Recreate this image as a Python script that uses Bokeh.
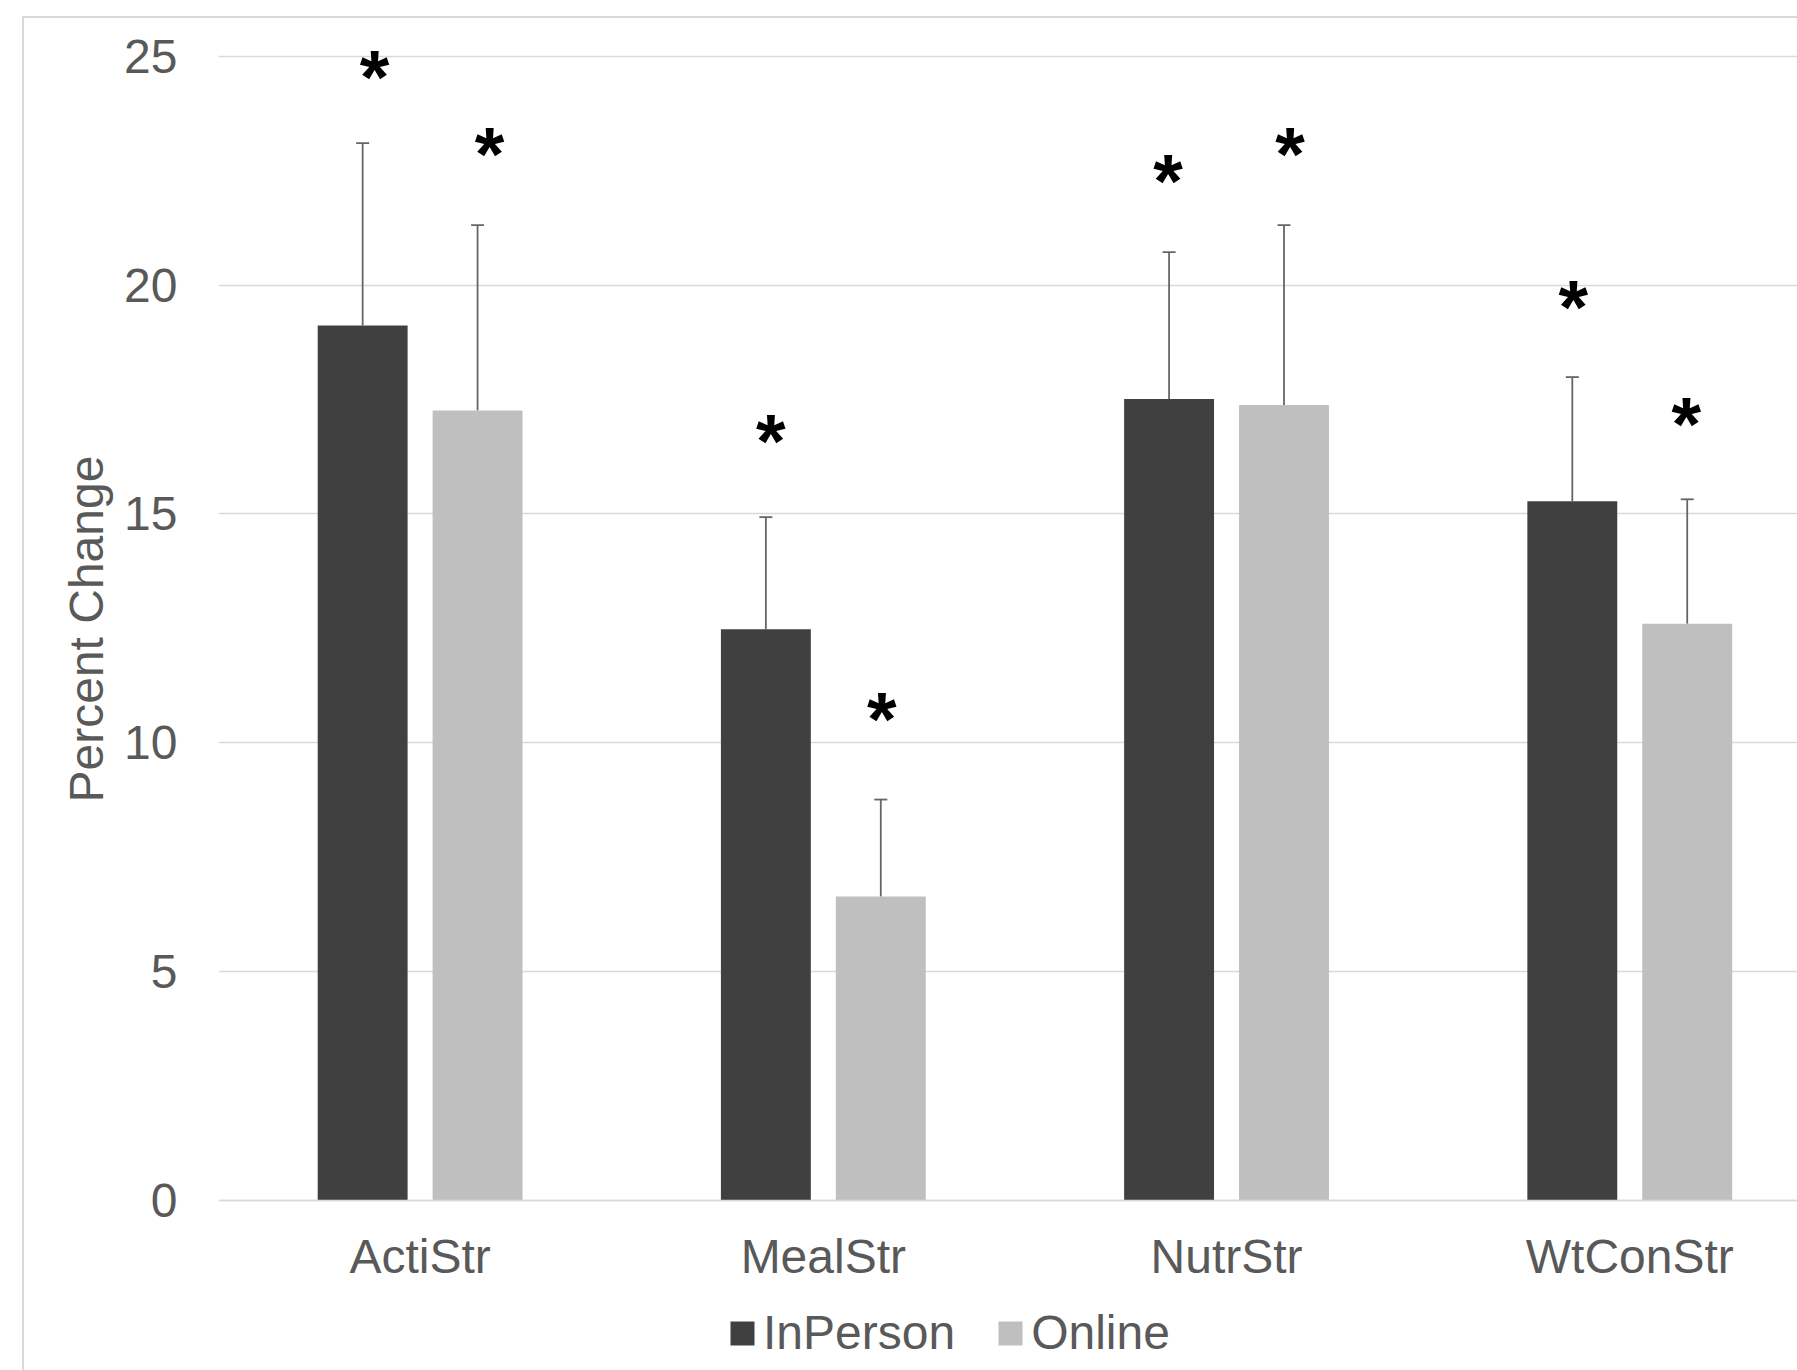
from bokeh.plotting import figure
from bokeh.models import (ColumnDataSource, Whisker, TeeHead, Legend, LegendItem,
                          FixedTicker, Range1d, Title)
from bokeh.core.properties import value
from bokeh.embed import file_html
from bokeh.resources import INLINE

# ---- data ----
categories = ["ActiStr", "MealStr", "NutrStr", "WtConStr"]
series_names = ["InPerson", "Online"]
inperson = [19.12, 12.48, 17.51, 15.28]
online = [17.26, 6.64, 17.38, 12.60]
inperson_err = [3.98, 2.45, 3.21, 2.71]
online_err = [4.05, 2.12, 3.93, 2.72]
# significance markers: height (data units) and small horizontal nudge (px)
inperson_star_y = [24.77, 16.83, 22.51, 19.74]
online_star_y = [23.10, 10.75, 23.10, 17.20]
inperson_star_dx = [12, 5, -1, 1]
online_star_dx = [12, 1, 6, -1]
star_text = "*"
y_ticks = [0, 5, 10, 15, 20, 25]
y_title = "Percent Change"

FONT = "Liberation Sans"
GREY_TXT = "#595959"
DARK = "#404040"
LIGHT = "#BFBFBF"
LINE = "#D9D9D9"

idx = list(range(len(categories)))
off = 0.1425
bw = 0.223

src_ip = ColumnDataSource(dict(
    x=[i - off for i in idx], top=inperson,
    hi=[v + e for v, e in zip(inperson, inperson_err)],
    sy=inperson_star_y, dx=inperson_star_dx, t=[star_text] * len(idx)))
src_on = ColumnDataSource(dict(
    x=[i + off for i in idx], top=online,
    hi=[v + e for v, e in zip(online, online_err)],
    sy=online_star_y, dx=online_star_dx, t=[star_text] * len(idx)))

W, H = 1797, 1370
# frame: left 218px, top 40px, bottom = canvas bottom; y=0 sits 170px above it
p = figure(width=W, height=H, x_range=Range1d(-0.5, 3.416),
           y_range=Range1d(-3.714, 25.344),
           output_backend="svg", toolbar_location=None,
           min_border_left=218, min_border_right=0, min_border_top=40,
           min_border_bottom=0)
p.outline_line_color = None
p.background_fill_color = "white"
p.border_fill_color = None
p.styles = {
    "background-color": "white",
    "background-image": f"linear-gradient({LINE}, {LINE}), linear-gradient({LINE}, {LINE})",
    "background-size": "2px 100%, 100% 2px",
    "background-position": "22px 16px, 22px 16px",
    "background-repeat": "no-repeat",
}

p.xgrid.visible = False
p.ygrid.grid_line_color = LINE
p.ygrid.grid_line_width = 1.5
p.ygrid.ticker = FixedTicker(ticks=y_ticks)

p.yaxis.ticker = FixedTicker(ticks=y_ticks)
p.yaxis.axis_line_color = None
p.yaxis.major_tick_line_color = None
p.yaxis.minor_tick_line_color = None
p.yaxis.major_tick_out = 0
p.yaxis.major_tick_in = 0
p.yaxis.major_label_standoff = 41
p.yaxis.major_label_text_font = FONT
p.yaxis.major_label_text_font_size = "48px"
p.yaxis.major_label_text_color = GREY_TXT

ytitle = Title(text=y_title, align="left", offset=568, standoff=18,
               text_font=FONT, text_font_size="48px", text_font_style="normal",
               text_color=GREY_TXT)
p.add_layout(ytitle, "left")

p.xaxis.fixed_location = 0
p.xaxis.ticker = FixedTicker(ticks=idx)
p.xaxis.major_label_overrides = {i: c for i, c in zip(idx, categories)}
p.xaxis.axis_line_color = LINE
p.xaxis.axis_line_width = 1.5
p.xaxis.major_tick_line_color = None
p.xaxis.minor_tick_line_color = None
p.xaxis.major_tick_out = 0
p.xaxis.major_tick_in = 0
p.xaxis.major_label_standoff = 29
p.xaxis.major_label_text_font = FONT
p.xaxis.major_label_text_font_size = "48px"
p.xaxis.major_label_text_color = GREY_TXT

r_ip = p.vbar(x="x", top="top", bottom=0, width=bw, source=src_ip,
              fill_color=DARK, line_color=None)
r_on = p.vbar(x="x", top="top", bottom=0, width=bw, source=src_on,
              fill_color=LIGHT, line_color=None)

for s in (src_ip, src_on):
    wk = Whisker(base="x", lower="top", upper="hi", source=s, dimension="height",
                 line_color="#666666", line_width=1.8,
                 upper_head=TeeHead(size=13, line_color="#666666", line_width=1.8),
                 lower_head=None)
    p.add_layout(wk)
    p.text(x="x", y="sy", text="t", source=s, text_font=value(FONT),
           text_font_style="bold", text_font_size="76px", text_color="black",
           text_align="center", text_baseline="alphabetic", x_offset="dx", y_offset=10)

legend = Legend(items=[LegendItem(label=series_names[0], renderers=[r_ip]),
                       LegendItem(label=series_names[1], renderers=[r_on])],
                orientation="horizontal", location=(509, 10))
legend.glyph_width = 30
legend.glyph_height = 30
legend.label_standoff = 6
legend.spacing = 40
legend.padding = 0
legend.margin = 0
legend.border_line_color = None
legend.background_fill_alpha = 0
legend.label_text_font = FONT
legend.label_text_font_size = "48px"
legend.label_text_color = GREY_TXT
p.add_layout(legend, "center")

open("out.html", "w").write(file_html(p, INLINE))
